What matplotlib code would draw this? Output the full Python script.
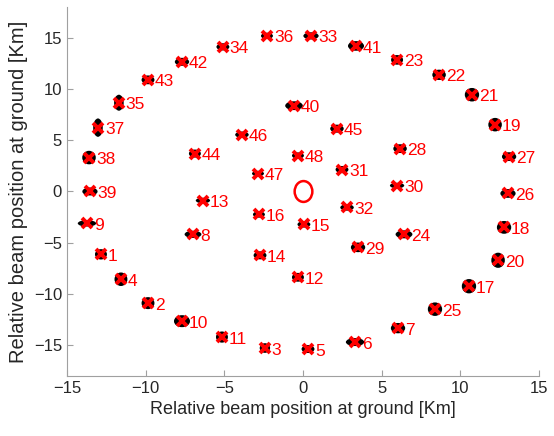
import numpy as np
import matplotlib.pyplot as plt
from matplotlib.patches import Ellipse
from matplotlib.markers import MarkerStyle
from matplotlib.transforms import Affine2D

# beam centres at ground [km]
beam_id = np.arange(1, 49)
beam_x = [-12.84, -9.85, -2.42, -11.57, 0.32, 3.31, 6.04, -6.99, -13.73, -7.69,
          -5.15, -0.32, -6.36, -2.73, 0.06, -2.80, 10.55, 12.78, 12.21, 12.40,
          10.74, 8.65, 5.98, 6.42, 8.39, 13.03, 13.10, 6.17, 3.50, 5.98,
          2.48, 2.80, 0.51, -5.09, -11.70, -2.29, -13.03, -13.60, -13.54, -0.57,
          3.37, -7.69, -9.85, -6.87, 2.16, -3.88, -2.86, -0.32]
beam_y = [-6.13, -10.89, -15.27, -8.56, -15.37, -14.69, -13.33, -4.18, -3.11, -12.65,
          -14.20, -8.37, -0.88, -6.23, -3.21, -2.24, -9.24, -3.50, 6.52, -6.71,
          9.44, 11.38, 12.84, -4.18, -11.48, -0.19, 3.40, 4.18, -5.45, 0.58,
          2.14, -1.56, 15.18, 14.11, 8.66, 15.18, 6.23, 3.31, 0.0, 8.37,
          14.20, 12.65, 10.89, 3.70, 6.13, 5.54, 1.75, 3.50]

# spread of the measured positions around each beam [km]
spread_x = [0.76, 0.82, 0.66, 0.82, 0.82, 1.17, 0.91, 1.07, 1.17, 1.02,
            0.76, 0.76, 0.91, 0.82, 0.82, 0.76, 0.91, 0.91, 0.86, 0.86,
            0.91, 0.86, 0.76, 1.07, 0.91, 0.97, 0.91, 0.86, 0.91, 0.91,
            0.82, 0.86, 0.97, 0.82, 0.61, 0.76, 0.61, 0.86, 0.97, 1.12,
            1.02, 0.91, 0.82, 0.76, 0.86, 0.86, 0.76, 0.76]
spread_y = [1.01, 1.17, 0.94, 1.32, 0.78, 0.78, 1.01, 0.70, 0.62, 1.17,
            1.09, 0.86, 0.54, 0.78, 0.62, 0.62, 1.40, 1.25, 1.32, 1.48,
            1.32, 1.01, 0.94, 0.78, 1.32, 0.86, 0.86, 0.86, 0.94, 0.54,
            0.70, 0.62, 0.70, 0.70, 1.56, 0.62, 1.79, 1.32, 0.78, 0.86,
            0.94, 0.78, 0.86, 0.78, 0.78, 0.62, 0.54, 0.62]

ticks = [-15, -10, -5, 0, 5, 10, 15]

plt.rcParams['font.family'] = ['Liberation Sans', 'DejaVu Sans']

fig = plt.figure(figsize=(5.54, 4.36), dpi=100)
ax = fig.add_axes([0.1209, 0.1376, 0.852, 0.8464])

for x, y, w, h in zip(beam_x, beam_y, spread_x, spread_y):
    ax.add_patch(Ellipse((x, y), w, h, color='black', lw=0, zorder=1))

ax.plot(beam_x, beam_y, linestyle='none', marker='x', color='red',
        markersize=7.5, markeredgewidth=2.8, zorder=3)

for i, x, y in zip(beam_id, beam_x, beam_y):
    ax.annotate(str(i), (x, y), xytext=(5, -1.5), textcoords='offset points',
                color='red', fontsize=12.5, va='center', ha='left', zorder=4)

# satellite nadir
oval = MarkerStyle('o', transform=Affine2D().scale(0.85, 1.0))
ax.plot([0], [0], linestyle='none', marker=oval, markersize=15,
        markerfacecolor='none', markeredgecolor='red', markeredgewidth=1.8, zorder=3)

ax.set_xlim(-15, 15)
ax.set_ylim(-18, 18)
ax.set_xticks(ticks)
ax.set_yticks(ticks)
ax.spines['top'].set_visible(False)
ax.spines['right'].set_visible(False)
for s in ['left', 'bottom']:
    ax.spines[s].set_color('#a0a0a0')
ax.tick_params(direction='in', colors='#a0a0a0', labelcolor='#262626',
               labelsize=12, length=4)
ax.set_xlabel('Relative beam position at ground [Km]', fontsize=13, color='#262626')
ax.set_ylabel('Relative beam position at ground [Km]', fontsize=14.5, color='#262626')

fig.savefig('out.png', dpi=100)
